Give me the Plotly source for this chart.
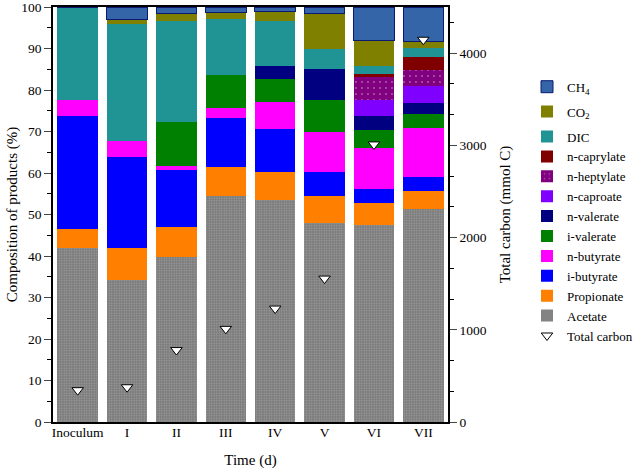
import plotly.graph_objects as go

# ---- data ----
time_labels = ["Inoculum", "I", "II", "III", "IV", "V", "VI", "VII"]

acetate     = [41.9, 34.1, 39.8, 54.5, 53.5, 47.9, 47.4, 51.3]
propionate  = [4.6, 7.8, 7.3, 7.0, 6.8, 6.5, 5.3, 4.4]
i_butyrate  = [27.3, 21.9, 13.6, 11.7, 10.3, 5.9, 3.4, 3.4]
n_butyrate  = [3.7, 4.0, 1.1, 2.5, 6.4, 9.5, 10.0, 11.7]
i_valerate  = [0, 0, 10.6, 7.9, 5.7, 7.8, 4.3, 3.5]
n_valerate  = [0, 0, 0, 0, 3.0, 7.4, 3.4, 2.6]
n_caproate  = [0, 0, 0, 0, 0, 0, 3.7, 4.0]
n_heptylate = [0, 0, 0, 0, 0, 0, 5.6, 4.0]
n_caprylate = [0, 0, 0, 0, 0, 0, 0.8, 3.0]
dic         = [22.5, 28.2, 24.2, 13.4, 10.9, 4.9, 2.0, 2.2]
co2         = [0, 1.1, 1.8, 1.7, 2.3, 8.5, 6.1, 1.5]
ch4         = [0, 2.9, 1.6, 1.3, 1.1, 1.6, 8.0, 8.4]

total_carbon = [345, 377, 780, 1010, 1230, 1555, 3010, 4145]

series = [
    ("Acetate", acetate, "#7d7d7d"),
    ("Propionate", propionate, "#ff8000"),
    ("i-butyrate", i_butyrate, "#0000ff"),
    ("n-butyrate", n_butyrate, "#ff00ff"),
    ("i-valerate", i_valerate, "#008000"),
    ("n-valerate", n_valerate, "#000080"),
    ("n-caproate", n_caproate, "#8000ff"),
    ("n-heptylate", n_heptylate, "#800080"),
    ("n-caprylate", n_caprylate, "#800000"),
    ("DIC", dic, "#209494"),
    ("CO<sub>2</sub>", co2, "#808000"),
    ("CH<sub>4</sub>", ch4, "#3465a8"),
]

x = list(range(len(time_labels)))
FONT = "Liberation Serif"

fig = go.Figure()
n = len(series)
for i, (name, vals, col) in enumerate(series):
    marker = dict(color=col, line=dict(width=0))
    if name == "Acetate":
        marker["pattern"] = dict(shape=".", bgcolor="#7a7a7a", fgcolor="#a0a0a0",
                                 size=2.5, solidity=0.3, fillmode="replace")
    if name == "n-heptylate":
        marker["pattern"] = dict(shape=".", bgcolor="#800080", fgcolor="#b060b0",
                                 size=6, solidity=0.08, fillmode="replace")
    if name.startswith("CH"):
        marker["line"] = dict(width=1, color="#0a1a70")
    if name.startswith("CH"):
        group = "g1"
    elif name.startswith("CO"):
        group = "g2"
    else:
        group = "g3"
    fig.add_trace(go.Bar(x=x, y=vals, name=name, marker=marker,
                         legendrank=n - i, legendgroup=group, yaxis="y"))

fig.add_trace(go.Scatter(
    x=x, y=total_carbon, name="Total carbon", mode="markers", yaxis="y2",
    marker=dict(symbol="triangle-down", size=10, color="white",
                line=dict(color="black", width=1)),
    legendrank=n + 1, legendgroup="g3",
))

fig.update_layout(
    width=638, height=469,
    margin=dict(l=53, r=190, t=7, b=47, autoexpand=False),
    paper_bgcolor="white", plot_bgcolor="white",
    barmode="stack", bargap=0.18,
    font=dict(family=FONT, size=14, color="black"),
    showlegend=True,
    legend=dict(traceorder="grouped", x=1.2, xanchor="left", y=0.844, yanchor="top",
                font=dict(family=FONT, size=13, color="black"),
                bgcolor="rgba(0,0,0,0)", tracegroupgap=5),
    xaxis=dict(range=[-0.5, 7.5], tickvals=x, ticktext=time_labels,
               showline=True, linecolor="black", linewidth=1.5, mirror=True,
               ticks="", showgrid=False, zeroline=False, automargin=False,
               ticklabelstandoff=-3,
               tickfont=dict(family=FONT, size=13.5),
               title=dict(text="Time (d)", font=dict(family=FONT, size=15), standoff=18)),
    yaxis=dict(range=[0, 100], dtick=10, tick0=0, showline=True, linecolor="black",
               linewidth=1.5, ticks="outside", ticklen=7, tickwidth=1.2,
               minor=dict(dtick=5, ticks="outside", ticklen=4, tickwidth=1.2,
                          tickcolor="black"),
               showgrid=False, zeroline=False, automargin=False,
               ticklabeloverflow="allow",
               tickfont=dict(family=FONT, size=13.5),
               title=dict(text="Composition of products (%)",
                          font=dict(family=FONT, size=15), standoff=0)),
    yaxis2=dict(range=[0, 4500], overlaying="y", side="right",
                tickvals=[0, 1000, 2000, 3000, 4000],
                showline=True, linecolor="black", linewidth=1.5,
                ticks="outside", ticklen=7, tickwidth=1.2,
                minor=dict(dtick=1000 / 3, tick0=0, ticks="outside", ticklen=4,
                           tickwidth=1.2, tickcolor="black"),
                showgrid=False, zeroline=False, automargin=False,
                ticklabeloverflow="allow",
                tickfont=dict(family=FONT, size=13.5),
                title=dict(text="Total carbon (mmol C)",
                           font=dict(family=FONT, size=15), standoff=14)),
)

fig.write_html("out.html",
               config={"displayModeBar": False},
               post_script="document.body.style.margin='0px';")
